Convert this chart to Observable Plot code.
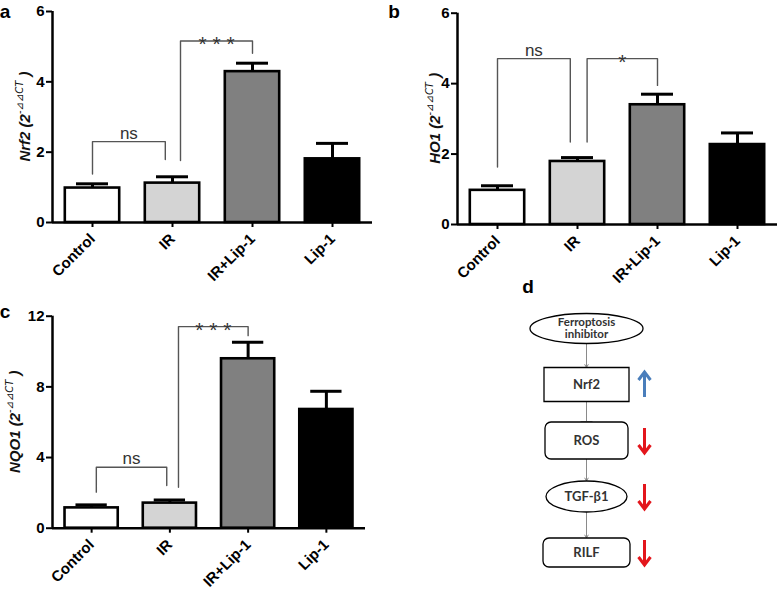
<!DOCTYPE html>
<html><head><meta charset="utf-8">
<script src="https://cdn.jsdelivr.net/npm/d3@7"></script>
<script src="https://cdn.jsdelivr.net/npm/@observablehq/plot@0.6"></script>
<style>
body{margin:0;background:#fff;}
#fig{position:relative;width:778px;height:593px;overflow:hidden;}
#fig svg{position:absolute;overflow:visible;}
</style></head><body><div id="fig"></div>
<script>
// ---------- data ----------
const groups = ["Control", "IR", "IR+Lip-1", "Lip-1"];
const nrf2Mean = [0.98, 1.12, 4.29, 1.81];
const nrf2Sem  = [0.12, 0.18, 0.24, 0.44];
const ho1Mean  = [0.97, 1.79, 3.40, 2.27];
const ho1Sem   = [0.13, 0.11, 0.30, 0.33];
const nqo1Mean = [1.15, 1.42, 9.59, 6.72];
const nqo1Sem  = [0.17, 0.18, 0.94, 1.03];
const ticksSmall = [0, 2, 4, 6];
const ticksLarge = [0, 4, 8, 12];
// significance brackets (x in category units, y in data units)
const nrf2Brackets = [
  {x1: 0, x2: 0.91, top: 2.30, end1: 1.38, end2: 1.79, label: "ns"},
  {x1: 1.10, x2: 2, top: 5.16, end1: 1.76, end2: 4.81, label: "* * *"}
];
const ho1Brackets = [
  {x1: 0, x2: 0.91, top: 4.71, end1: 1.63, end2: 2.34, label: "ns"},
  {x1: 1.12, x2: 2, top: 4.71, end1: 2.34, end2: 3.95, label: "*"}
];
const nqo1Brackets = [
  {x1: 0.06, x2: 0.96, top: 3.45, end1: 2.04, end2: 2.42, label: "ns"},
  {x1: 1.11, x2: 2, top: 11.41, end1: 2.32, end2: 10.9, label: "* * *"}
];
// flow diagram
const flowNodes  = ["Ferroptosis inhibitor", "Nrf2", "ROS", "TGF-β1", "RILF"];
const flowLabels = ["Ferroptosis\ninhibitor", "Nrf2", "ROS", "TGF-β1", "RILF"];
const flowShapes = ["ellipse", "box", "rounded", "ellipse", "rounded"];
const edgeFrom = ["Ferroptosis inhibitor", "Nrf2", "ROS", "TGF-β1"];
const edgeTo   = ["Nrf2", "ROS", "TGF-β1", "RILF"];
const edgeType = ["activate", "inhibit", "activate", "activate"];
const changeNodes = ["Nrf2", "ROS", "TGF-β1", "RILF"];
const changeDir   = ["up", "down", "down", "down"];

// ---------- styles ----------
const FONT = "'Liberation Sans', Arial, sans-serif";
const barColors = ["#ffffff", "#d4d4d4", "#808080", "#000000"];
const nodeSize = {"Ferroptosis inhibitor": [113, 30], "Nrf2": [85, 34], "ROS": [83, 37], "TGF-β1": [81, 31], "RILF": [87, 29]};

function yLabel(gene, offset) {
  return (index, scales, values, dims) => {
    const cy = (dims.marginTop + dims.height - dims.marginBottom) / 2;
    const x = dims.marginLeft - offset;
    const t = d3.create("svg:text")
      .attr("transform", `translate(${x},${cy}) rotate(-90)`)
      .attr("text-anchor", "middle")
      .attr("font-family", FONT).attr("font-size", 15)
      .attr("font-weight", "bold").attr("font-style", "italic").attr("fill", "#111");
    t.append("tspan").text(gene + " (2");
    t.append("tspan").attr("font-size", 10).attr("dy", -7).attr("font-weight", "normal")
      .attr("font-family", "'DejaVu Sans', sans-serif").text("-⊿⊿CT");
    t.append("tspan").attr("dy", 7).text(" )");
    return t.node();
  };
}
function panelLabel(letter, x, y) {
  return () => d3.create("svg:text").attr("x", x).attr("y", y)
    .attr("font-family", FONT).attr("font-size", 19).attr("font-weight", "bold")
    .attr("fill", "#000").text(letter).node();
}

function barPanel(o) {
  const data = groups.map((g, i) => ({group: g, i, mean: o.mean[i], upper: o.mean[i] + o.sem[i]}));
  const pts = o.brackets.flatMap((b, k) => [
    {k, x: b.x1, y: b.end1}, {k, x: b.x1, y: b.top}, {k, x: b.x2, y: b.top}, {k, x: b.x2, y: b.end2}
  ]);
  const yMax = o.ticks[o.ticks.length - 1];
  const svg = Plot.plot({
    width: o.width, height: o.height,
    marginLeft: o.ml, marginRight: o.mr, marginTop: o.mt, marginBottom: o.mb,
    style: {fontFamily: FONT, background: "transparent", overflow: "visible"},
    x: {domain: [-0.5, 3.5]},
    y: {domain: [0, yMax]},
    color: {domain: groups, range: barColors},
    marks: [
      Plot.line(pts, {x: "x", y: "y", z: "k", stroke: "#555", strokeWidth: 1.4}),
      Plot.text(o.brackets.filter(b => b.label === "ns"), {x: b => (b.x1 + b.x2) / 2, y: "top", text: "label", lineAnchor: "bottom", dy: -3, fontSize: 17, fill: "#333"}),
      Plot.text(o.brackets.filter(b => b.label !== "ns"), {x: b => (b.x1 + b.x2) / 2, y: "top", text: "label", lineAnchor: "bottom", dy: 10, fontSize: 21, fill: "#333"}),
      Plot.ruleX(data, {x: "i", y1: "mean", y2: "upper", stroke: "#000", strokeWidth: 3}),
      Plot.ruleY(data, {y: "upper", x1: d => d.i - 0.2, x2: d => d.i + 0.2, stroke: "#000", strokeWidth: 3}),
      Plot.rect(data, {x1: d => d.i - 0.34, x2: d => d.i + 0.34, y1: 0, y2: "mean", fill: "group", stroke: "#000", strokeWidth: 2.6}),
      Plot.ruleX([-0.5], {y1: 0, y2: yMax, stroke: "#000", strokeWidth: 2.5}),
      Plot.ruleY([0], {x1: -0.5, x2: 3.5, stroke: "#000", strokeWidth: 2.5}),
      Plot.axisY({ticks: o.ticks, tickFormat: d => String(d), tickSize: 6, tickPadding: 2, fontSize: 15, fontWeight: "bold", strokeWidth: 2, label: null}),
      Plot.axisX({ticks: [0, 1, 2, 3], tickFormat: i => groups[i], tickRotate: -45, tickSize: 5, tickPadding: 9, fontSize: 15, fontWeight: "bold", strokeWidth: 2, label: null}),
      yLabel(o.gene, o.labelOffset),
      panelLabel(o.letter, o.lx, o.ly)
    ]
  });
  svg.style.left = o.left + "px";
  svg.style.top = o.top + "px";
  return svg;
}

const fig = document.getElementById("fig");
fig.append(barPanel({gene: "Nrf2", mean: nrf2Mean, sem: nrf2Sem, ticks: ticksSmall, brackets: nrf2Brackets,
  width: 390, height: 295, ml: 52, mr: 18, mt: 11, mb: 73, left: 0, top: 0, labelOffset: 22, letter: "a", lx: 5, ly: 18}));
fig.append(barPanel({gene: "HO1", mean: ho1Mean, sem: ho1Sem, ticks: ticksSmall, brackets: ho1Brackets,
  width: 388, height: 295, ml: 67, mr: 1, mt: 12.7, mb: 71, left: 390, top: 0, labelOffset: 17, letter: "b", lx: 4, ly: 18}));
fig.append(barPanel({gene: "NQO1", mean: nqo1Mean, sem: nqo1Sem, ticks: ticksLarge, brackets: nqo1Brackets,
  width: 390, height: 298, ml: 52, mr: 25, mt: 20.7, mb: 65.3, left: 0, top: 295, labelOffset: 32, letter: "c", lx: 5, ly: 23}));

// ---------- flow diagram ----------
function shapeSymbol(kind, w, h) {
  return {draw(ctx) {
    const a = w / 2, b = h / 2;
    if (kind === "ellipse") {
      const k = 0.5523;
      ctx.moveTo(a, 0);
      ctx.bezierCurveTo(a, b * k, a * k, b, 0, b);
      ctx.bezierCurveTo(-a * k, b, -a, b * k, -a, 0);
      ctx.bezierCurveTo(-a, -b * k, -a * k, -b, 0, -b);
      ctx.bezierCurveTo(a * k, -b, a, -b * k, a, 0);
      ctx.closePath();
    } else if (kind === "box") {
      ctx.rect(-a, -b, w, h);
    } else {
      const r = 6;
      ctx.moveTo(-a + r, -b);
      ctx.arcTo(a, -b, a, b, r);
      ctx.arcTo(a, b, -a, b, r);
      ctx.arcTo(-a, b, -a, -b, r);
      ctx.arcTo(-a, -b, a, -b, r);
      ctx.closePath();
    }
  }};
}
function changeSymbol(dir) {
  return {draw(ctx) {
    const L = 12.5, s = dir === "up" ? -1 : 1;
    ctx.moveTo(0, -s * L); ctx.lineTo(0, s * L);
    ctx.moveTo(-6, s * (L - 8)); ctx.lineTo(0, s * L); ctx.lineTo(6, s * (L - 8));
  }};
}
function tBarSymbol(h) {
  return {draw(ctx) { ctx.moveTo(-6, -h / 2); ctx.lineTo(6, -h / 2); }};
}

const flowMarks = [];
edgeFrom.forEach((f, k) => {
  const t = edgeTo[k];
  const inhibit = edgeType[k] === "inhibit";
  flowMarks.push(Plot.arrow([k], {x1: 0, x2: 0, y1: () => f, y2: () => t,
    insetStart: nodeSize[f][1] / 2, insetEnd: nodeSize[t][1] / 2,
    headLength: inhibit ? 0 : 5, headAngle: 60, stroke: "#8a8a8a", strokeWidth: 1}));
  if (inhibit) flowMarks.push(Plot.dot([t], {x: 0, y: d => d, symbol: tBarSymbol(nodeSize[t][1]), r: 4,
    fill: "none", stroke: "#8a8a8a", strokeWidth: 2}));
});
flowNodes.forEach((n, k) => {
  flowMarks.push(Plot.dot([n], {x: 0, y: d => d, symbol: shapeSymbol(flowShapes[k], ...nodeSize[n]), r: 4,
    fill: "#fff", stroke: "#000", strokeWidth: 1.3}));
});
flowMarks.push(Plot.text(flowNodes, {x: 0, y: d => d, text: (d, i) => flowLabels[i],
  fontSize: (d, i) => i === 0 ? 11.5 : 13, fontFamily: "Lato, 'Open Sans', sans-serif", fontWeight: "bold",
  fill: "#333", lineHeight: 1.05}));
changeNodes.forEach((n, k) => {
  flowMarks.push(Plot.dot([n], {x: 1, y: d => d, symbol: changeSymbol(changeDir[k]), r: 4,
    fill: "none", stroke: changeDir[k] === "up" ? "#4a7ebb" : "#e3161c", strokeWidth: 3}));
});
flowMarks.push(panelLabel("d", 8, -2));

const flow = Plot.plot({
  width: 258, height: 298, margin: 0,
  style: {fontFamily: FONT, background: "transparent", overflow: "visible"},
  x: {domain: [0, 1], range: [66, 124], axis: null},
  y: {type: "point", domain: flowNodes, range: [33, 257], padding: 0, axis: null},
  marks: flowMarks
});
flow.style.left = "520px";
flow.style.top = "295px";
fig.append(flow);
</script>
</body></html>
